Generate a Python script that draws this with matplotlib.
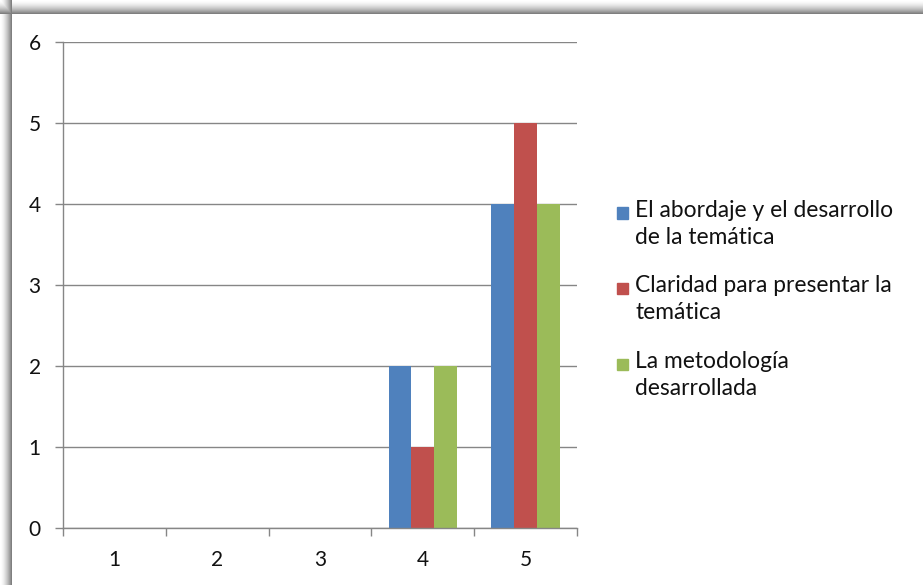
import numpy as np
import matplotlib
matplotlib.use("Agg")
import matplotlib.pyplot as plt
from matplotlib.patches import Rectangle

plt.rcParams['font.family'] = ['Lato', 'DejaVu Sans']

categories = ["1", "2", "3", "4", "5"]
series_names = [
    "El abordaje y el desarrollo\nde la temática",
    "Claridad para presentar la\ntemática",
    "La metodología\ndesarrollada",
]
abordaje = [0, 0, 0, 2, 4]
claridad = [0, 0, 0, 1, 5]
metodologia = [0, 0, 0, 2, 4]
series_values = [abordaje, claridad, metodologia]
colors = ["#4F81BD", "#C0504D", "#9BBB59"]
y_ticks = [0, 1, 2, 3, 4, 5, 6]

W, H = 923, 585
fig = plt.figure(figsize=(W / 100, H / 100), dpi=100)

# soft drop shadow along the top and left edges of the chart frame
bg = fig.add_axes([0, 0, 1, 1], zorder=-10)
bg.set_xlim(0, W)
bg.set_ylim(H, 0)
bg.axis("off")
img = np.ones((H, W, 3))
top_h, left_w = 14, 12
for i in range(top_h):
    v = 1.0 - 0.5 * (i / (top_h - 1)) ** 1.6
    img[i, :, :] = v
for j in range(left_w):
    v = 1.0 - 0.5 * (j / (left_w - 1)) ** 1.6
    img[:, j, :] = np.minimum(img[:, j, :], v)
bg.imshow(img, extent=(0, W, H, 0), aspect="auto", interpolation="bilinear")

ax = fig.add_axes([63 / W, (H - 528) / H, 514 / W, 486 / H])
n_cat = len(categories)
n_ser = len(series_values)
bar_w = 1 / (n_ser + 1.5)
x = np.arange(n_cat)
for k, (vals, col) in enumerate(zip(series_values, colors)):
    offs = (k - (n_ser - 1) / 2) * bar_w
    ax.bar(x + offs, vals, width=bar_w, color=col, zorder=3)

ax.set_xlim(-0.5, n_cat - 0.5)
ax.set_ylim(0, 6)
ax.set_yticks(y_ticks)
ax.set_yticklabels([str(t) for t in y_ticks])
ax.set_xticks(x)
ax.set_xticklabels(categories)
ax.set_xticks(np.arange(n_cat + 1) - 0.5, minor=True)
ax.tick_params(axis="x", which="major", length=0, pad=16, labelsize=15, colors="#111111")
ax.tick_params(axis="x", which="minor", length=6, color="#868686", width=1)
ax.tick_params(axis="y", length=6, color="#868686", width=1, pad=10, labelsize=15,
               labelcolor="#111111")
ax.yaxis.grid(True, color="#868686", linewidth=1, zorder=0)
for s in ["top", "right"]:
    ax.spines[s].set_visible(False)
for s in ["left", "bottom"]:
    ax.spines[s].set_color("#868686")
    ax.spines[s].set_linewidth(1)
    ax.spines[s].set_zorder(4)

# legend entries: colored squares with wrapped labels
leg_y = [213, 288, 364]
for name, col, yc in zip(series_names, colors, leg_y):
    sq = 11
    fig.patches.append(Rectangle((617 / W, 1 - (yc + sq / 2) / H), sq / W, sq / H,
                                 transform=fig.transFigure, color=col))
    fig.text(635 / W, 1 - (yc - 13) / H, name, fontsize=16.4, va="top", ha="left",
             linespacing=1.38, color="#111111")

fig.savefig("out.png", dpi=100)
